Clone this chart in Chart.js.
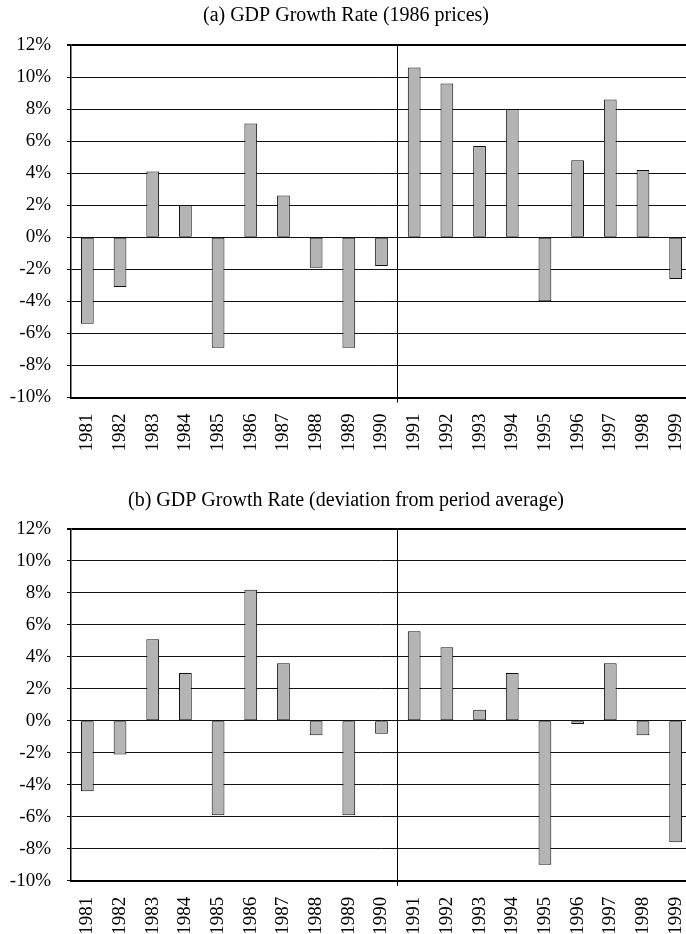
<!DOCTYPE html>
<html>
<head>
<meta charset="utf-8">
<script src="https://cdn.jsdelivr.net/npm/chart.js@4/dist/chart.umd.min.js"></script>
<style>
  body { margin: 0; background: #fff; overflow: hidden; width: 686px; height: 934px; }
  canvas { display: block; }
</style>
</head>
<body>
<canvas id="chart-a" width="716" height="480"></canvas>
<canvas id="chart-b" width="716" height="454"></canvas>
<script>
// Datos
var years = ['1981', '1982', '1983', '1984', '1985', '1986', '1987', '1988', '1989', '1990',
             '1991', '1992', '1993', '1994', '1995', '1996', '1997', '1998', '1999'];
var growthPrices = [-5.4, -3.1, 4.1, 2.0, -6.9, 7.1, 2.6, -1.9, -6.9, -1.8,
                    10.6, 9.6, 5.7, 8.0, -4.0, 4.8, 8.6, 4.2, -2.6];
var growthDeviation = [-4.4, -2.1, 5.1, 3.0, -5.9, 8.2, 3.6, -0.9, -5.9, -0.8,
                       5.6, 4.6, 0.7, 3.0, -9.0, -0.2, 3.6, -0.9, -7.6];
var yMin = -10, yMax = 12, yStep = 2;
var splitIndex = 10; // linea vertical entre 1990 y 1991

var serif = 'Liberation Serif';

var makeChart = function (canvasId, title, values, titlePad, xHeight) {
    return new Chart(document.getElementById(canvasId), {
        type: 'bar',
        data: {
            labels: years,
            datasets: [{
                data: values,
                backgroundColor: '#b4b4b4',
                borderColor: '#111',
                borderWidth: 1,
                borderSkipped: false,
                barPercentage: 0.39,
                categoryPercentage: 1.0
            }]
        },
        options: {
            responsive: false,
            animation: false,
            layout: { padding: { left: 0, right: 24, top: 0, bottom: 0 } },
            plugins: {
                legend: { display: false },
                tooltip: { enabled: false },
                title: {
                    display: true,
                    text: title,
                    color: '#000',
                    font: { family: serif, size: 20, weight: 'normal' },
                    padding: titlePad
                }
            },
            scales: {
                x: {
                    offset: true,
                    grid: {
                        offset: true,
                        tickLength: 5,
                        lineWidth: 1,
                        color: function (ctx) {
                            return ctx.index === splitIndex ? '#000' : 'rgba(0,0,0,0)';
                        }
                    },
                    border: { display: true, color: '#000', width: 2 },
                    ticks: {
                        color: '#000',
                        font: { family: serif, size: 19 },
                        minRotation: 90,
                        maxRotation: 90,
                        autoSkip: false,
                        padding: 11
                    },
                    afterFit: function (scale) { scale.height = xHeight; }
                },
                y: {
                    min: yMin,
                    max: yMax,
                    grid: {
                        tickLength: 4,
                        color: function (ctx) {
                            return ctx.tick && ctx.tick.value === yMax ? '#000' : '#111';
                        },
                        lineWidth: function (ctx) {
                            return ctx.tick && ctx.tick.value === yMax ? 2 : 1;
                        }
                    },
                    border: { display: true, color: '#000', width: 1.5 },
                    ticks: {
                        stepSize: yStep,
                        color: '#000',
                        padding: 16,
                        font: { family: serif, size: 19 },
                        callback: function (v) { return v + '%'; }
                    },
                    afterFit: function (scale) { scale.width = 71; }
                }
            }
        }
    });
};

makeChart('chart-a', '(a) GDP Growth Rate (1986 prices)', growthPrices, { top: 4, bottom: 17 }, 82.5);
makeChart('chart-b', '(b) GDP Growth Rate (deviation from period average)', growthDeviation, { top: 9, bottom: 16 }, 53.3);
</script>
</body>
</html>
